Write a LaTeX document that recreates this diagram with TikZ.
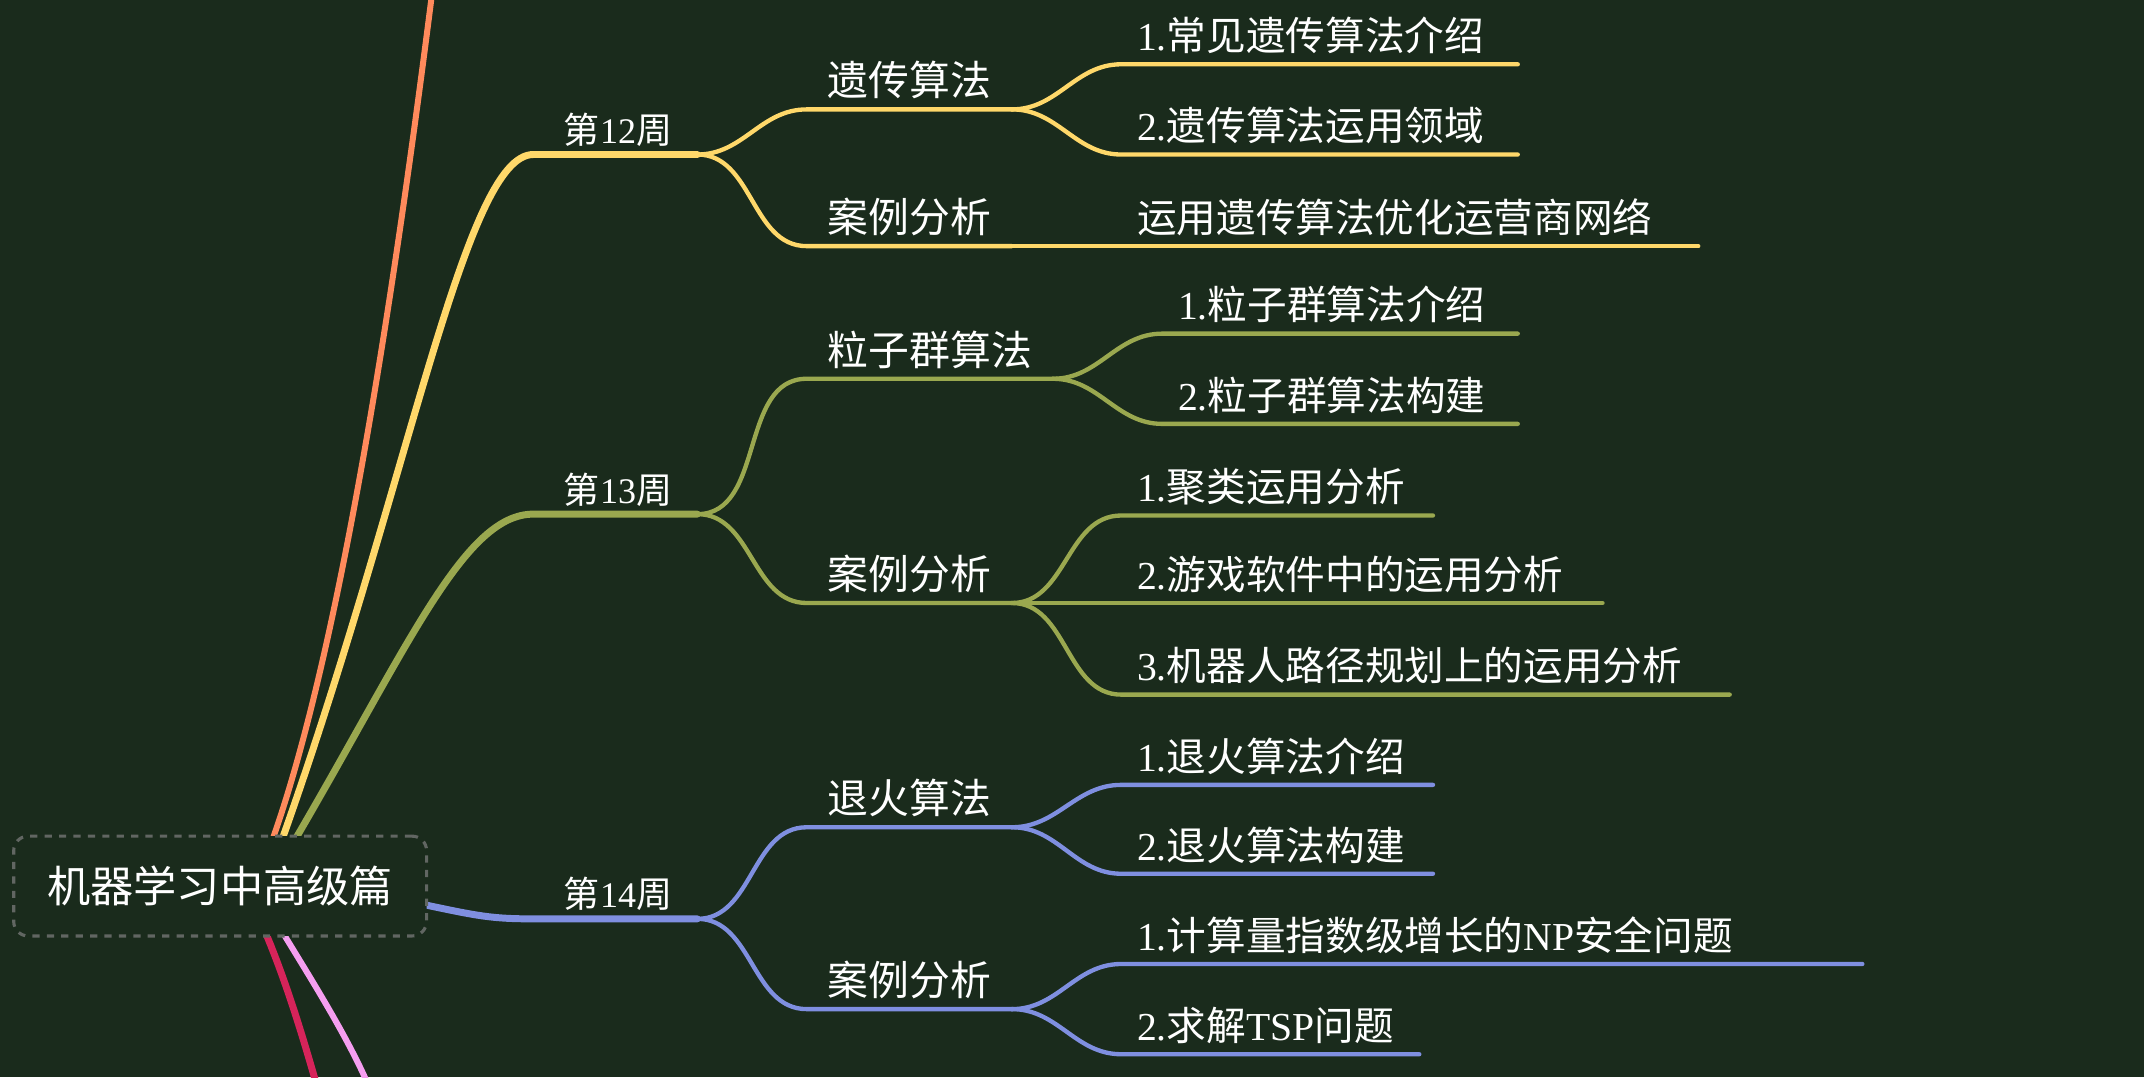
\documentclass[tikz,border=0pt]{standalone}
\usepackage{fontspec}
\setmainfont{Noto Sans CJK SC}
\newfontfamily\latf{Liberation Serif}
\newcommand\lat[1]{{\latf #1}}
\usetikzlibrary{positioning}
\tikzset{
  week/.style={line width=2.9pt, line cap=round},
  twig/.style={line width=1.8pt, line cap=round},
  wlab/.style={text=white, font=\fontsize{15}{15}\selectfont, anchor=south, inner sep=2pt},
  slab/.style={text=white, font=\fontsize{17}{17}\selectfont, anchor=south, inner sep=3pt},
  llab/.style={text=white, font=\fontsize{16.5}{16.5}\selectfont, anchor=south west, inner sep=3pt},
}
\definecolor{bg}{HTML}{1A2B1C}
\definecolor{cy}{HTML}{FFD86A}
\definecolor{co}{HTML}{9AA84F}
\definecolor{cb}{HTML}{7F8FE0}
\definecolor{cor}{HTML}{FF8A5C}
\definecolor{cr}{HTML}{D6245A}
\definecolor{cp}{HTML}{F59EF0}
\begin{document}
\begin{tikzpicture}[x=0.02cm, y=-0.02cm]
\fill[bg] (0,0) rectangle (1568,788);
\useasboundingbox (0,0) rectangle (1568,788);

% root and outgoing lines
\coordinate (r1) at (200,612); \coordinate (r2) at (207,612); \coordinate (r3) at (217,612);
\coordinate (rd1) at (195,684); \coordinate (rd2) at (208,684);
\coordinate (top) at (316,-5); \coordinate (bot1) at (232,795); \coordinate (bot2) at (270,795);
\draw[cor, line width=2.5pt] (r1) .. controls (250,470) and (290,200) .. (top);
\draw[cr, line width=2.9pt] (rd1) .. controls (210,720) and (222,760) .. (bot1);
\draw[cp, line width=2.5pt] (rd2) .. controls (230,720) and (255,760) .. (bot2);

% week 12
\coordinate (w12a) at (390,113); \coordinate (w12) at (510,113);
\draw[cy, week] (r2) .. controls (300,350) and (340,113) .. (w12a) -- (w12);
\node[wlab] (t12) at (452,111) {第\lat{12}周};
\coordinate (g1a) at (590,80); \coordinate (g1) at (740,80);
\coordinate (g2a) at (590,180); \coordinate (g2) at (740,180);
\draw[cy, twig] (w12) to[out=0,in=180] (g1a) -- (g1);
\draw[cy, twig] (w12) to[out=0,in=180] (g2a) -- (g2);
\node[slab] (tg1) at (665,78) {遗传算法};
\node[slab] (tg2) at (665,178) {案例分析};
\coordinate (l1a) at (820,47); \coordinate (l1) at (1110,47);
\coordinate (l2a) at (820,113); \coordinate (l2) at (1110,113);
\coordinate (l3) at (1242,180);
\draw[cy, twig] (g1) to[out=0,in=180] (l1a) -- (l1);
\draw[cy, twig] (g1) to[out=0,in=180] (l2a) -- (l2);
\draw[cy, twig] (g2) -- (l3);
\node[llab] (tl1) at (826,45) {\lat{1.}常见遗传算法介绍};
\node[llab] (tl2) at (826,111) {\lat{2.}遗传算法运用领域};
\node[llab] (tl3) at (826,178) {运用遗传算法优化运营商网络};

% week 13
\coordinate (w13a) at (390,376); \coordinate (w13) at (510,376);
\draw[co, week] (r3) .. controls (300,470) and (340,376) .. (w13a) -- (w13);
\node[wlab] (t13) at (452,374) {第\lat{13}周};
\coordinate (p1a) at (590,277); \coordinate (p1) at (770,277);
\coordinate (p2a) at (590,441); \coordinate (p2) at (740,441);
\draw[co, twig] (w13) to[out=0,in=180] (p1a) -- (p1);
\draw[co, twig] (w13) to[out=0,in=180] (p2a) -- (p2);
\node[slab] (tp1) at (680,275) {粒子群算法};
\node[slab] (tp2) at (665,439) {案例分析};
\coordinate (m1a) at (850,244); \coordinate (m1) at (1110,244);
\coordinate (m2a) at (850,310); \coordinate (m2) at (1110,310);
\draw[co, twig] (p1) to[out=0,in=180] (m1a) -- (m1);
\draw[co, twig] (p1) to[out=0,in=180] (m2a) -- (m2);
\node[llab] (tm1) at (856,242) {\lat{1.}粒子群算法介绍};
\node[llab] (tm2) at (856,308) {\lat{2.}粒子群算法构建};
\coordinate (n1a) at (820,377); \coordinate (n1) at (1048,377);
\coordinate (n2) at (1172,441);
\coordinate (n3a) at (820,508); \coordinate (n3) at (1265,508);
\draw[co, twig] (p2) to[out=0,in=180] (n1a) -- (n1);
\draw[co, twig] (p2) -- (n2);
\draw[co, twig] (p2) to[out=0,in=180] (n3a) -- (n3);
\node[llab] (tn1) at (826,375) {\lat{1.}聚类运用分析};
\node[llab] (tn2) at (826,439) {\lat{2.}游戏软件中的运用分析};
\node[llab] (tn3) at (826,506) {\lat{3.}机器人路径规划上的运用分析};

% week 14
\coordinate (w14a) at (390,672); \coordinate (w14) at (510,672);
\draw[cb, week] (312,662) .. controls (350,670) and (360,672) .. (w14a) -- (w14);
\node[wlab] (t14) at (452,670) {第\lat{14}周};
\coordinate (q1a) at (590,605); \coordinate (q1) at (740,605);
\coordinate (q2a) at (590,738); \coordinate (q2) at (740,738);
\draw[cb, twig] (w14) to[out=0,in=180] (q1a) -- (q1);
\draw[cb, twig] (w14) to[out=0,in=180] (q2a) -- (q2);
\node[slab] (tq1) at (665,603) {退火算法};
\node[slab] (tq2) at (665,736) {案例分析};
\coordinate (s1a) at (820,574); \coordinate (s1) at (1048,574);
\coordinate (s2a) at (820,639); \coordinate (s2) at (1048,639);
\coordinate (s3a) at (820,705); \coordinate (s3) at (1362,705);
\coordinate (s4a) at (820,771); \coordinate (s4) at (1038,771);
\draw[cb, twig] (q1) to[out=0,in=180] (s1a) -- (s1);
\draw[cb, twig] (q1) to[out=0,in=180] (s2a) -- (s2);
\draw[cb, twig] (q2) to[out=0,in=180] (s3a) -- (s3);
\draw[cb, twig] (q2) to[out=0,in=180] (s4a) -- (s4);
\node[llab] (ts1) at (826,572) {\lat{1.}退火算法介绍};
\node[llab] (ts2) at (826,637) {\lat{2.}退火算法构建};
\node[llab] (ts3) at (826,703) {\lat{1.}计算量指数级增长的\lat{NP}安全问题};
\node[llab] (ts4) at (826,769) {\lat{2.}求解\lat{TSP}问题};

% root box
\node[draw=gray!70!bg, dashed, line width=1.3pt, rounded corners=6pt, fill=bg,
  minimum width=6.04cm, minimum height=1.46cm, text=white,
  font=\fontsize{18}{18}\selectfont] (root) at (161,648) {机器学习中高级篇};
\end{tikzpicture}
\end{document}
